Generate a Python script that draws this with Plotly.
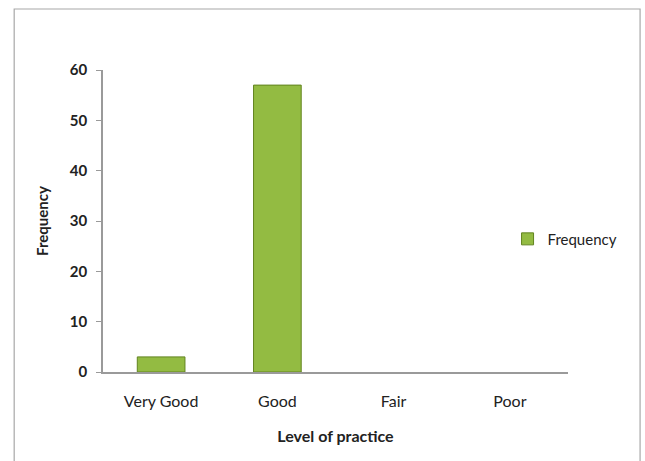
import plotly.graph_objects as go

categories = ["Very Good", "Good", "Fair", "Poor"]
frequency = [3, 57, 0, 0]
y_ticks = [0, 10, 20, 30, 40, 50, 60]

FONT = "Lato, 'Open Sans', sans-serif"

fig = go.Figure()
fig.add_trace(go.Bar(
    x=categories, y=frequency, name="Frequency",
    marker=dict(color="#93bb42",
                line=dict(color="#62841f", width=[1 if v > 0 else 0 for v in frequency])),
    showlegend=True,
))

fig.update_layout(
    width=645, height=461,
    margin=dict(l=103, r=77, t=70, b=89),
    paper_bgcolor="white", plot_bgcolor="white",
    bargap=0.59,
    font=dict(family=FONT, color="#222222", size=14),
    showlegend=True,
    legend=dict(x=0.87, y=0.44, xanchor="left", yanchor="middle",
                font=dict(size=15, color="#222222"), bgcolor="rgba(0,0,0,0)",
                itemwidth=30),
    xaxis=dict(
        showline=True, linecolor="#9a9a9a", linewidth=1.5,
        ticks="", showgrid=False, ticklabelstandoff=14,
        tickfont=dict(size=16, color="#222222"),
        title=dict(text="<b>Level of practice</b>", font=dict(size=16), standoff=22),
    ),
    yaxis=dict(
        range=[0, 60], tickvals=y_ticks,
        showline=True, linecolor="#9a9a9a", linewidth=1.5,
        ticks="outside", ticklen=5, tickcolor="#9a9a9a",
        showgrid=False, zeroline=False, ticklabelstandoff=6,
        tickfont=dict(size=15, color="#222222", weight="bold"),
        title=dict(text="<b>Frequency</b>", font=dict(size=15), standoff=18),
    ),
    shapes=[dict(type="rect", xref="paper", yref="paper",
                 x0=-0.191, x1=1.155, y0=-0.4, y1=1.202,
                 line=dict(color="#a8a8a8", width=1.2), layer="below")],
)

fig.write_html("out.html")
